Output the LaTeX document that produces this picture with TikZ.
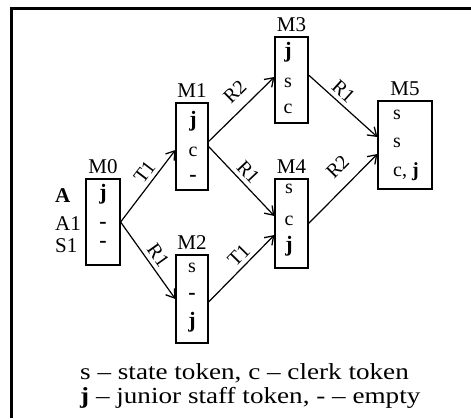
\documentclass[tikz,border=0pt]{standalone}
\usepackage{fontspec}
\setmainfont{Liberation Serif}
\usetikzlibrary{arrows.meta}
\newcommand{\widetext}[1]{\scalebox{1.18}[1]{#1}}
\begin{document}
\begin{tikzpicture}[x=1pt,y=-1pt,
  place/.style={draw,line width=1.2pt,rectangle,inner sep=0pt},
  pname/.style={anchor=base,font=\fontsize{21}{21}\selectfont,inner sep=0pt},
  tok/.style={inner sep=0pt,font=\fontsize{20}{20}\selectfont},
  jtok/.style={inner sep=0pt,font=\fontsize{22}{22}\selectfont\bfseries},
  side/.style={anchor=west,inner sep=0pt,font=\fontsize{21}{21}\selectfont},
  arc/.style={line width=1.2pt,-{Straight Barb[length=8pt,width=11pt,line width=1.3pt]}},
  lab/.style={sloped,above=3pt,inner sep=1pt,font=\fontsize{20}{20}\selectfont},
  legend/.style={anchor=west,inner sep=0pt,font=\fontsize{23}{23}\selectfont}]
\useasboundingbox (0,0) rectangle (471,418);
% frame
\draw[line width=3pt] (11.5,418) -- (11.5,8.5) -- (471,8.5);

% places
\node[place,minimum width=34pt,minimum height=86pt] (M0) at (103,222) {};
\node[place,minimum width=32pt,minimum height=87pt] (M1) at (192,146.5) {};
\node[place,minimum width=32pt,minimum height=88pt] (M2) at (192,299) {};
\node[place,minimum width=33pt,minimum height=86pt] (M3) at (291.5,80) {};
\node[place,minimum width=33pt,minimum height=89pt] (M4) at (291.5,223.5) {};
\node[place,minimum width=54pt,minimum height=88pt] (M5) at (405,145) {};

% place names
\node[pname] (n0) at ([yshift=5pt]M0.north) {M0};
\node[pname] (n1) at ([yshift=5pt]M1.north) {M1};
\node[pname] (n2) at ([yshift=5pt]M2.north) {M2};
\node[pname] (n3) at ([yshift=5pt]M3.north) {M3};
\node[pname] (n4) at ([yshift=5pt]M4.north) {M4};
\node[pname] (n5) at ([yshift=5pt]M5.north) {M5};

% tokens
\node[jtok] (t0a) at (103,194) {j};
\node[jtok] (t0b) at (103,225) {-};
\node[jtok] (t0c) at (103,244) {-};
\node[side] (l0a) at (55,196) {\bfseries A};
\node[side] (l0b) at (55,224) {A1};
\node[side] (l0c) at (55,246) {S1};

\node[jtok] (t1a) at (193,121) {j};
\node[tok]  (t1b) at (193,152) {c};
\node[jtok] (t1c) at (193,178) {-};

\node[tok]  (t2a) at (192,268) {s};
\node[jtok] (t2b) at (192,296) {-};
\node[jtok] (t2c) at (192,322) {j};

\node[jtok] (t3a) at (288,52) {j};
\node[tok]  (t3b) at (288,83) {s};
\node[tok]  (t3c) at (288,109) {c};

\node[tok]  (t4a) at (289,189) {s};
\node[tok]  (t4b) at (289,221) {c};
\node[jtok] (t4c) at (289,246) {j};

\node[tok,anchor=west] (t5a) at (393,115) {s};
\node[tok,anchor=west] (t5b) at (393,143) {s};
\node[tok,anchor=west] (t5c) at (393,172) {c, \textbf{j}};

% transitions
\draw[arc] (M0.east) -- node[lab,pos=0.6] {T1} ([yshift=-3.5pt]M1.west);
\draw[arc] (M0.east) -- node[lab,pos=0.52] {R1} (M2.west);
\draw[arc] ([yshift=5pt]M1.east) -- node[lab,pos=0.58,above=6pt] {R2} ([yshift=3pt]M3.west);
\draw[arc] (M1.east) -- node[lab,pos=0.48] {R1} ([yshift=7.5pt]M4.west);
\draw[arc] ([yshift=-3pt]M2.east) -- node[lab,pos=0.58] {T1} ([yshift=-11.5pt]M4.west);
\draw[arc] ([yshift=5pt]M3.east) -- node[lab,pos=0.4] {R1} ([yshift=8pt]M5.west);
\draw[arc] (M4.east) -- node[lab,pos=0.62,above=8pt] {R2} ([yshift=-9pt]M5.west);

% legend
\node[legend] (k1) at (80,373) {\widetext{s -- state token, c -- clerk token}};
\node[legend] (k2) at (80,398) {\widetext{\textbf{j} -- junior staff token, - -- empty}};
\end{tikzpicture}
\end{document}
